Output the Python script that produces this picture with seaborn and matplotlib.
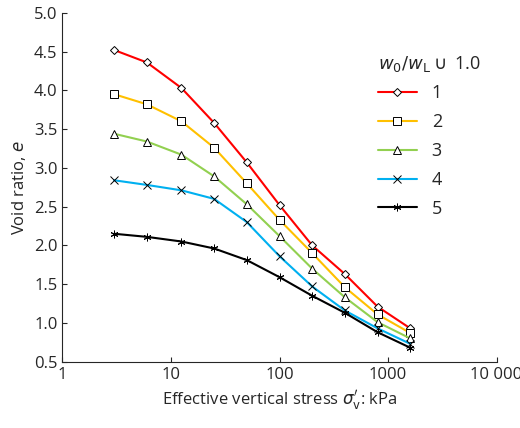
import matplotlib
matplotlib.use('Agg')
import matplotlib.pyplot as plt
import seaborn as sns
import pandas as pd

stress = [3, 6, 12.5, 25, 50, 100, 200, 400, 800, 1600]
e1 = [4.52, 4.36, 4.03, 3.58, 3.07, 2.52, 2.00, 1.63, 1.21, 0.93]
e2 = [3.95, 3.82, 3.60, 3.26, 2.80, 2.33, 1.90, 1.46, 1.11, 0.87]
e3 = [3.44, 3.34, 3.17, 2.89, 2.53, 2.12, 1.70, 1.33, 1.01, 0.80]
e4 = [2.84, 2.78, 2.71, 2.60, 2.30, 1.86, 1.47, 1.16, 0.93, 0.73]
e5 = [2.15, 2.11, 2.05, 1.96, 1.81, 1.59, 1.35, 1.13, 0.88, 0.68]
labels = ['1', '2', '3', '4', '5']
colors = ['#ff0000', '#ffc000', '#92d050', '#00b0f0', '#000000']
markers = ['D', 's', '^', 'x', (6, 2, 0)]

sns.set_style('ticks')
plt.rcParams['font.family'] = ['Open Sans', 'DejaVu Sans']

fig, ax = plt.subplots(figsize=(5.2, 4.28), dpi=100)
for lab, vals, c, m in zip(labels, [e1, e2, e3, e4, e5], colors, markers):
    df = pd.DataFrame({'s': stress, 'e': vals})
    ms = 4 if m == 'D' else 5.5
    sns.lineplot(data=df, x='s', y='e', ax=ax, color=c, marker=m, markersize=ms,
                 markerfacecolor='white', markeredgecolor='black', markeredgewidth=0.7,
                 linewidth=1.5, label=lab)

ax.set_xscale('log')
ax.set_xlim(1, 10000)
ax.set_ylim(0.5, 5.0)
ax.set_xticks([1, 10, 100, 1000, 10000])
ax.set_xticklabels(['1', '10', '100', '1000', '10 000'])
ax.set_yticks([0.5 + 0.5 * i for i in range(10)])
ax.set_yticklabels([f'{0.5 + 0.5 * i:.1f}' for i in range(10)])
ax.minorticks_off()
ax.tick_params(direction='in', labelsize=12)
for s in ['top', 'right']:
    ax.spines[s].set_visible(False)
ax.set_xlabel(r"Effective vertical stress $\sigma_{\rm v}'$: kPa", fontsize=12)
ax.set_ylabel('Void ratio, $e$', fontsize=12)
leg = ax.legend(title=r'$w_0/w_{\rm L} \cup$ 1.0', frameon=False, fontsize=13,
                title_fontsize=13, loc='upper right', bbox_to_anchor=(1.0, 0.93),
                handlelength=2.2, labelspacing=0.6)
leg._legend_box.align = 'left'
fig.subplots_adjust(left=0.12, right=0.955, top=0.97, bottom=0.155)
fig.savefig('out.png', dpi=100)
